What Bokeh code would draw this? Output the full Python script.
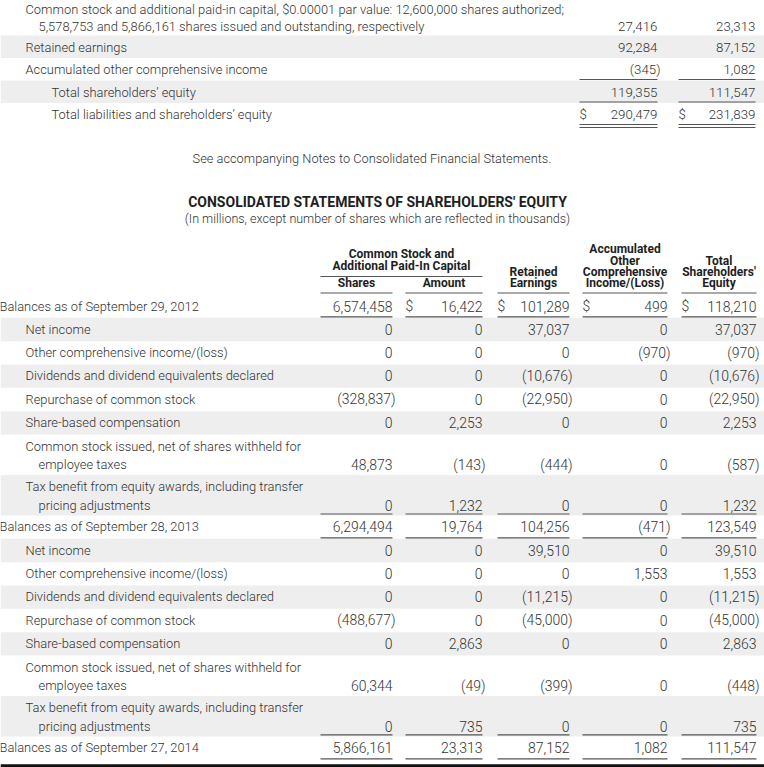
from bokeh.plotting import figure
from bokeh.models import Range1d
from bokeh.core.properties import value
from bokeh.embed import file_html
from bokeh.resources import INLINE

# ---------------- data: balance-sheet excerpt ----------------
bs_labels = [
    "Common stock and additional paid-in capital, $0.00001 par value: 12,600,000 shares authorized;",
    "Retained earnings",
    "Accumulated other comprehensive income",
    "Total shareholders’ equity",
    "Total liabilities and shareholders’ equity",
]
bs_labels_2 = ["5,578,753 and 5,866,161 shares issued and outstanding, respectively", "", "", "", ""]
bs_indent = [0, 0, 0, 1, 1]
bs_2014 = [27416, 92284, -345, 119355, 290479]
bs_2013 = [23313, 87152, 1082, 111547, 231839]
bs_dollar = [False, False, False, False, True]
bs_rule = ["", "", "single", "single", "double"]

footnote = "See accompanying Notes to Consolidated Financial Statements."
title = "CONSOLIDATED STATEMENTS OF SHAREHOLDERS' EQUITY"
subtitle = "(In millions, except number of shares which are reflected in thousands)"

group_header = ["Common Stock and", "Additional Paid-In Capital"]
col_headers = [
    ["Shares"],
    ["Amount"],
    ["Retained", "Earnings"],
    ["Accumulated", "Other", "Comprehensive", "Income/(Loss)"],
    ["Total", "Shareholders'", "Equity"],
]

# ---------------- data: statement of shareholders' equity ----------------
eq_labels = [
    "Balances as of September 29, 2012",
    "Net income",
    "Other comprehensive income/(loss)",
    "Dividends and dividend equivalents declared",
    "Repurchase of common stock",
    "Share-based compensation",
    "Common stock issued, net of shares withheld for",
    "Tax benefit from equity awards, including transfer",
    "Balances as of September 28, 2013",
    "Net income",
    "Other comprehensive income/(loss)",
    "Dividends and dividend equivalents declared",
    "Repurchase of common stock",
    "Share-based compensation",
    "Common stock issued, net of shares withheld for",
    "Tax benefit from equity awards, including transfer",
    "Balances as of September 27, 2014",
]
eq_labels_2 = ["", "", "", "", "", "", "employee taxes", "pricing adjustments",
               "", "", "", "", "", "", "employee taxes", "pricing adjustments", ""]
eq_shares = [6574458, 0, 0, 0, -328837, 0, 48873, 0,
             6294494, 0, 0, 0, -488677, 0, 60344, 0, 5866161]
eq_amount = [16422, 0, 0, 0, 0, 2253, -143, 1232,
             19764, 0, 0, 0, 0, 2863, -49, 735, 23313]
eq_retained = [101289, 37037, 0, -10676, -22950, 0, -444, 0,
               104256, 39510, 0, -11215, -45000, 0, -399, 0, 87152]
eq_aoci = [499, 0, -970, 0, 0, 0, 0, 0,
           -471, 0, 1553, 0, 0, 0, 0, 0, 1082]
eq_total = [118210, 37037, -970, -10676, -22950, 2253, -587, 1232,
            123549, 39510, 1553, -11215, -45000, 2863, -448, 735, 111547]

# ---------------- layout / style ----------------
REF_W, REF_H = 764, 767
W, H = 764, 767
SX = W / REF_W
FONT = value("'Roboto Light', Roboto")
FONT_B = value("Roboto")
TXT = "#333333"
HDR = "#1e1e1e"
BAND = "#eeeeee"
RULE = "#555555"
HANG = 3.0


def fs(px):
    return f"{px * SX:.2f}px"


def fmt(v):
    s = f"{abs(v):,}"
    return f"({s})" if v < 0 else s


p = figure(width=W, height=H, x_range=Range1d(0, REF_W), y_range=Range1d(REF_H, 0),
           x_axis_type=None, y_axis_type=None, output_backend="svg",
           toolbar_location=None, min_border=0)
p.grid.visible = False
p.outline_line_color = None
p.background_fill_color = "white"
p.border_fill_color = "white"


def txt(xs, ys, texts, align="left", size=13.0, color=TXT, bold=False):
    p.text(x=xs, y=ys, text=texts, text_align=align, text_baseline="middle",
           text_font=FONT_B if bold else FONT, text_font_size=fs(size), text_color=color,
           text_font_style="bold" if bold else "normal")


def numbers(vals, ys, right, size):
    xs = [right + (HANG if v < 0 else 0) for v in vals]
    txt(xs, ys, [fmt(v) for v in vals], align="right", size=size)


# ---------------- top: balance sheet excerpt ----------------
BS_ROW1, BS_ROW2 = 22.5, 35.0
bs_cols = [(579, 657), (678, 755)]
bs_tops, bs_bots = [], []
yy = 0.0
for l2 in bs_labels_2:
    bs_tops.append(yy)
    yy += BS_ROW2 if l2 else BS_ROW1
    bs_bots.append(yy)

gray = [i for i in range(len(bs_labels)) if i % 2 == 1]
p.quad(left=0, right=REF_W, top=[bs_tops[i] for i in gray], bottom=[bs_bots[i] for i in gray],
       fill_color=BAND, line_color=None)

lab_x, lab_y, lab_t, val_y = [], [], [], []
for i, (l1, l2) in enumerate(zip(bs_labels, bs_labels_2)):
    if l2:
        lab_x += [25, 38]
        lab_y += [bs_bots[i] - 26, bs_bots[i] - 9.5]
        lab_t += [l1, l2]
        val_y.append(bs_bots[i] - 9.5)
    else:
        lab_x.append(25 + 26 * bs_indent[i])
        lab_y.append(bs_tops[i] + 11.5)
        lab_t.append(l1)
        val_y.append(bs_tops[i] + 11.5)
txt(lab_x, lab_y, lab_t, size=12.9)
for (left, right), vals in zip(bs_cols, [bs_2014, bs_2013]):
    numbers(vals, val_y, right, 13.3)
    dy = [val_y[i] for i in range(len(vals)) if bs_dollar[i]]
    txt([left] * len(dy), dy, ["$"] * len(dy), size=13.3)

x0s, x1s, ys = [], [], []
for i, r in enumerate(bs_rule):
    offs = {"": [], "single": [-1.0], "double": [-1.0, 2.0]}[r]
    for o in offs:
        for left, right in bs_cols:
            x0s.append(left); x1s.append(right); ys.append(bs_bots[i] + o)
p.segment(x0=x0s, y0=ys, x1=x1s, y1=ys, line_color=RULE, line_width=1.2)

# ---------------- titles ----------------
txt([371.5], [158], [footnote], align="center", size=12.8)
txt([377], [201], [title], align="center", size=14.0, color=HDR, bold=True)
txt([377], [217.5], [subtitle], align="center", size=12.5)

# ---------------- equity statement ----------------
eq_cols = [(320, 392), (405, 482), (497, 569), (582, 667), (681, 756)]
HDR_BASE, HDR_STEP = 282.5, 11.2
hx, hy, ht = [], [], []
for (left, right), lines in zip(eq_cols, col_headers):
    n = len(lines)
    for k, line in enumerate(lines):
        hx.append((left + right) / 2)
        hy.append(HDR_BASE - (n - 1 - k) * HDR_STEP)
        ht.append(line)
gl, gr = eq_cols[0][0], eq_cols[1][1]
for k, line in enumerate(group_header):
    hx.append((gl + gr) / 2)
    hy.append(265.5 - (len(group_header) - 1 - k) * 12.5)
    ht.append(line)
txt(hx, hy, ht, align="center", size=12.0, color=HDR, bold=True)
p.segment(x0=[gl], y0=[276], x1=[gr], y1=[276], line_color=RULE, line_width=1.2)

EQ_TOP, ROW1, ROW2 = 294.0, 23.33, 40.5
tops, bots = [], []
yy = EQ_TOP
for l2 in eq_labels_2:
    tops.append(yy)
    yy += ROW2 if l2 else ROW1
    bots.append(yy)

gray = [i for i in range(len(eq_labels)) if i % 2 == 1]
p.quad(left=0, right=REF_W, top=[tops[i] for i in gray], bottom=[bots[i] for i in gray],
       fill_color=BAND, line_color=None)

is_bal = [lab.startswith("Balances") for lab in eq_labels]
lab_x, lab_y, lab_t, val_y = [], [], [], []
for i, (l1, l2) in enumerate(zip(eq_labels, eq_labels_2)):
    x = -1 if is_bal[i] else 25
    if l2:
        lab_x += [x, x + 13]
        lab_y += [tops[i] + 12, tops[i] + 30.5]
        lab_t += [l1, l2]
        val_y.append(tops[i] + 30.5)
    else:
        lab_x.append(x)
        lab_y.append(tops[i] + 11.5)
        lab_t.append(l1)
        val_y.append(tops[i] + 11.5)
txt(lab_x, lab_y, lab_t, size=12.9)

series = [eq_shares, eq_amount, eq_retained, eq_aoci, eq_total]
for ci, ((left, right), vals) in enumerate(zip(eq_cols, series)):
    numbers(vals, val_y, right, 14.0)
    if ci > 0:
        txt([left], [val_y[0]], ["$"], size=14.0)

x0s, x1s, ys = [], [], []
for i, b in enumerate(is_bal):
    if b:
        for left, right in eq_cols:
            x0s += [left, left]; x1s += [right, right]
            ys += [tops[i] - 1.5, bots[i] - 1.0]
p.segment(x0=x0s, y0=ys, x1=x1s, y1=ys, line_color=RULE, line_width=1.2)
p.segment(x0=[0], y0=[bots[-1] + 6], x1=[REF_W], y1=[bots[-1] + 6], line_color="#111111", line_width=3)

open("out.html", "w").write(file_html(p, INLINE))
